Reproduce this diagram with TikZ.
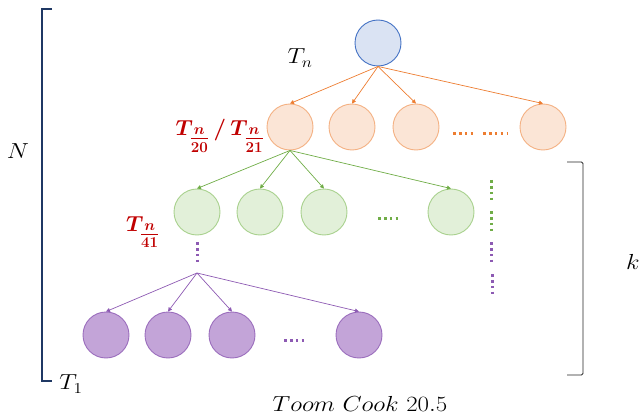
\documentclass[tikz,border=0pt]{standalone}
\usepackage{amsmath}
\usepackage{graphicx}
\usetikzlibrary{arrows.meta}
\definecolor{rootf}{HTML}{DAE3F3}
\definecolor{rootd}{HTML}{4472C4}
\definecolor{orf}{HTML}{FBE5D6}
\definecolor{ord}{HTML}{F4B183}
\definecolor{orl}{HTML}{ED7D31}
\definecolor{grf}{HTML}{E2F0D9}
\definecolor{grd}{HTML}{A9D18E}
\definecolor{grl}{HTML}{70AD47}
\definecolor{puf}{HTML}{C3A4D8}
\definecolor{pud}{HTML}{7030A0}
\definecolor{labred}{HTML}{C00000}
\definecolor{navy}{HTML}{1F3864}
\newcommand{\mylabA}{{\mathversion{bold}\color{labred}$T_{\textstyle\frac{n}{20}}\,/\,T_{\textstyle\frac{n}{21}}$}}
\newcommand{\mylabB}{{\mathversion{bold}\color{labred}$T_{\textstyle\frac{n}{41}}$}}
\newcommand{\mywide}[1]{\scalebox{1.2}[1.05]{#1}}
\tikzset{
  circ/.style={circle,minimum size=46pt,inner sep=0pt,line width=0.9pt},
  rootc/.style={circ,fill=rootf,draw=rootd},
  orc/.style={circ,fill=orf,draw=ord},
  grc/.style={circ,fill=grf,draw=grd},
  puc/.style={circ,fill=puf,draw=pud!70},
  arr/.style={-{Triangle[length=4pt,width=4pt]},line width=0.7pt},
  dots/.style={line width=3pt,dash pattern=on 2.6pt off 3.3pt},
  lbl/.style={font=\fontsize{20.74}{25}\selectfont,inner sep=0pt},
}
\begin{document}
\begin{tikzpicture}[x=1pt,y=-1pt]
\useasboundingbox (0,0) rectangle (641,420);
% root
\node[rootc] (r) at (378,43) {};
% orange row
\node[orc] (o1) at (290,127) {};
\node[orc] (o2) at (352,127) {};
\node[orc] (o3) at (416,127) {};
\node[orc] (o4) at (543,127) {};
\foreach \ii in {o1,o2,o3,o4}{\draw[arr,orl] (r.south) -- (\ii.north);}
\coordinate (od1) at (453,134); \coordinate (od2) at (476,134);
\coordinate (od3) at (483,134); \coordinate (od4) at (507,134);
\draw[dots,orl] (od1) -- (od2);
\draw[dots,orl] (od3) -- (od4);
% green row
\node[grc] (g1) at (197,212) {};
\node[grc] (g2) at (260,212) {};
\node[grc] (g3) at (324,212) {};
\node[grc] (g4) at (451,212) {};
\foreach \ii in {g1,g2,g3,g4}{\draw[arr,grl] (o1.south) -- (\ii.north);}
\coordinate (gd1) at (378,218); \coordinate (gd2) at (401,218);
\draw[dots,grl] (gd1) -- (gd2);
\coordinate (gv1) at (491,180); \coordinate (gv2) at (491,202);
\coordinate (gv3) at (491,211); \coordinate (gv4) at (491,233);
\draw[dots,grl] (gv1) -- (gv2);
\draw[dots,grl] (gv3) -- (gv4);
\coordinate (pv1) at (491,242); \coordinate (pv2) at (491,264);
\coordinate (pv3) at (492,274); \coordinate (pv4) at (492,296);
\draw[dots,pud!80] (pv1) -- (pv2);
\draw[dots,pud!80] (pv3) -- (pv4);
% purple
\coordinate (pa) at (197,273);
\coordinate (ps1) at (197,242); \coordinate (ps2) at (197,264);
\draw[dots,pud!80] (ps1) -- (ps2);
\node[puc] (p1) at (106,335) {};
\node[puc] (p2) at (168,335) {};
\node[puc] (p3) at (232,335) {};
\node[puc] (p4) at (359,335) {};
\foreach \ii in {p1,p2,p3,p4}{\draw[arr,pud!80] (pa) -- (\ii.north);}
\coordinate (pd1) at (284,340); \coordinate (pd2) at (307,340);
\draw[dots,pud!80] (pd1) -- (pd2);
% labels
\node[lbl] (tn) at (300,58) {\mywide{$T_n$}};
\node[lbl] (tA) at (220,136) {\scalebox{1.05}{\mylabA}};
\node[lbl] (tB) at (143,232) {\scalebox{1.05}{\mylabB}};
\node[lbl] (tone) at (71,384) {\mywide{$T_1$}};
\node[lbl] (nn) at (18,151) {\mywide{$N$}};
\node[lbl] (kk) at (633,262) {\mywide{$k$}};
\node[lbl] (tc) at (360,404) {\mywide{$Toom\ Cook\ 20.5$}};
% brackets
\coordinate (lb1) at (52,9); \coordinate (lb2) at (42,9);
\coordinate (lb3) at (42,381); \coordinate (lb4) at (52,381);
\draw[navy,line width=1.8pt] (lb1) -- (lb2) -- (lb3) -- (lb4);
\coordinate (rb1) at (567,162); \coordinate (rb2) at (583,162);
\coordinate (rb3) at (583,375); \coordinate (rb4) at (567,375);
\draw[black!85,line width=0.9pt,rounded corners=1.5pt] (rb1) -- (rb2) -- (rb3) -- (rb4);
\end{tikzpicture}
\end{document}
